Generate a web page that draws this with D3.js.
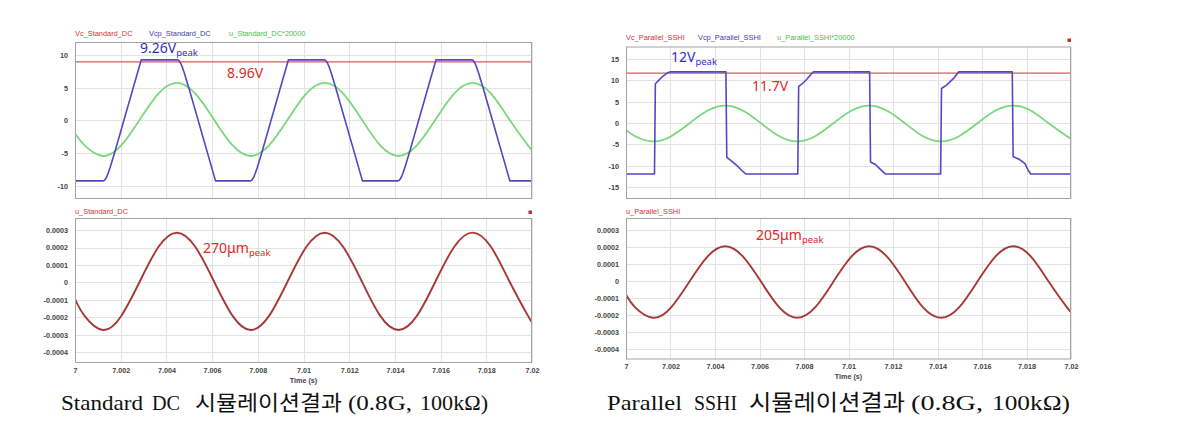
<!DOCTYPE html>
<html><head><meta charset="utf-8">
<script src="https://cdn.jsdelivr.net/npm/d3@7"></script>
<style>
html,body{margin:0;padding:0;background:#fff;}
svg{display:block;}
</style>
</head><body>
<svg id="chart" width="1186" height="435"></svg>
<script>
// ---------- data ----------
const xTickValues = [7, 7.002, 7.004, 7.006, 7.008, 7.01, 7.012, 7.014, 7.016, 7.018, 7.02];
const xTickLabels = ["7", "7.002", "7.004", "7.006", "7.008", "7.01", "7.012", "7.014", "7.016", "7.018", "7.02"];
const dcTopTicks = [10, 5, 0, -5, -10];
const sshiTopTicks = [15, 10, 5, 0, -5, -10, -15];
const dispTicks = [0.0003, 0.0002, 0.0001, 0, -0.0001, -0.0002, -0.0003, -0.0004];
const dispTickLabels = ["0.0003", "0.0002", "0.0001", "0", "-0.0001", "-0.0002", "-0.0003", "-0.0004"];

const dcLegend = ["Vc_Standard_DC", "Vcp_Standard_DC", "u_Standard_DC*20000"];
const sshiLegend = ["Vc_Parallel_SSHI", "Vcp_Parallel_SSHI", "u_Parallel_SSHI*20000"];
const dcBottomLabel = "u_Standard_DC";
const sshiBottomLabel = "u_Parallel_SSHI";
const dcCaptionWords = ["Standard", "DC", "시뮬레이션결과", "(0.8G,", "100kΩ)"];
const sshiCaptionWords = ["Parallel", "SSHI", "시뮬레이션결과", "(0.8G,", "100kΩ)"];

// time samples for the sinusoidal displacement curves (s)
const tSine = [7, 7.00041, 7.00122, 7.00203, 7.00284, 7.00365, 7.00446, 7.00527, 7.00608, 7.00689,
  7.00769, 7.00850, 7.00931, 7.01012, 7.01093, 7.01174, 7.01255, 7.01335, 7.01416, 7.01497,
  7.01578, 7.01659, 7.01740, 7.01821, 7.01901, 7.01982, 7.02];

// Standard DC
const uDC = [-0.95e-4, -1.90e-4, -2.72e-4, -1.90e-4, 0.07e-4, 2.03e-4, 2.85e-4, 2.03e-4, 0.07e-4, -1.90e-4,
  -2.72e-4, -1.90e-4, 0.07e-4, 2.03e-4, 2.85e-4, 2.03e-4, 0.07e-4, -1.90e-4, -2.72e-4, -1.90e-4,
  0.07e-4, 2.03e-4, 2.85e-4, 2.03e-4, 0.07e-4, -1.90e-4, -2.29e-4];
const uDCx20000 = [-2.0, -3.8, -5.45, -3.8, 0.15, 4.1, 5.75, 4.1, 0.15, -3.8,
  -5.45, -3.8, 0.15, 4.1, 5.75, 4.1, 0.15, -3.8, -5.45, -3.8,
  0.15, 4.1, 5.75, 4.1, 0.15, -3.8, -4.55];
const tVcpDC = [7,
  7.00122, 7.00130, 7.00138, 7.00145, 7.00153, 7.00173, 7.00290,
  7.00447, 7.00455, 7.00463, 7.00470, 7.00478, 7.00498, 7.00615,
  7.00766, 7.00774, 7.00782, 7.00789, 7.00797, 7.00817, 7.00934,
  7.01090, 7.01098, 7.01106, 7.01113, 7.01121, 7.01141, 7.01258,
  7.01412, 7.01420, 7.01428, 7.01435, 7.01443, 7.01463, 7.01580,
  7.01735, 7.01743, 7.01751, 7.01758, 7.01766, 7.01786, 7.01903,
  7.02];
const vcpDC = [-9.26,
  -9.26, -9.15, -8.7, -8.1, -7.3, -5.0, 9.26,
  9.26, 9.15, 8.7, 8.1, 7.3, 5.0, -9.26,
  -9.26, -9.15, -8.7, -8.1, -7.3, -5.0, 9.26,
  9.26, 9.15, 8.7, 8.1, 7.3, 5.0, -9.26,
  -9.26, -9.15, -8.7, -8.1, -7.3, -5.0, 9.26,
  9.26, 9.15, 8.7, 8.1, 7.3, 5.0, -9.26,
  -9.26];
const tVc = [7, 7.02];
const vcDC = [8.96, 8.96];

// Parallel SSHI
const uSSHI = [-0.82e-4, -1.56e-4, -2.17e-4, -1.56e-4, -0.07e-4, 1.41e-4, 2.03e-4, 1.41e-4, -0.07e-4, -1.56e-4,
  -2.17e-4, -1.56e-4, -0.07e-4, 1.41e-4, 2.03e-4, 1.41e-4, -0.07e-4, -1.56e-4, -2.17e-4, -1.56e-4,
  -0.07e-4, 1.41e-4, 2.03e-4, 1.41e-4, -0.07e-4, -1.56e-4, -1.80e-4];
const uSSHIx20000 = [-1.6, -3.07, -4.3, -3.07, -0.1, 2.87, 4.1, 2.87, -0.1, -3.07,
  -4.3, -3.07, -0.1, 2.87, 4.1, 2.87, -0.1, -3.07, -4.3, -3.07,
  -0.1, 2.87, 4.1, 2.87, -0.1, -3.07, -3.6];
const tVcpSSHI = [7,
  7.00128, 7.00132, 7.00147, 7.00162, 7.00185, 7.00200,
  7.00449, 7.00453, 7.00475, 7.00500, 7.00520, 7.00538,
  7.00772, 7.00776, 7.00792, 7.00812, 7.00830, 7.00842,
  7.01095, 7.01099, 7.01121, 7.01141, 7.01159, 7.01167,
  7.01414, 7.01418, 7.01441, 7.01471, 7.01486, 7.01496,
  7.01736, 7.01740, 7.01771, 7.01793, 7.01808, 7.01819,
  7.02];
const vcpSSHI = [-11.9,
  -11.9, 9.2, 10.0, 10.8, 11.7, 12.0,
  12.0, -8.0, -8.9, -10.0, -11.1, -11.9,
  -11.9, 8.6, 9.2, 10.2, 11.3, 12.0,
  12.0, -9.1, -9.7, -10.7, -11.6, -11.9,
  -11.9, 8.1, 8.9, 10.4, 11.4, 12.0,
  12.0, -7.8, -8.6, -9.5, -11.1, -11.9,
  -11.9];
const vcSSHI = [11.7, 11.7];

// ---------- drawing ----------
const svg = d3.select("#chart");
const zip = (xs, ys) => xs.map((x, i) => [x, ys[i]]);

const C = {
  frame: "#a3a3a3", grid: "#e3e3e3", tick: "#444",
  vc: "#d65a5a", vcp: "#5546c2", ug: "#7ad87a", ub: "#a63838",
  legVc: "#d03434", legVcp: "#3c3ca6", legU: "#48c048"
};

function panel(cfg) {
  const g = svg.append("g");
  const x = d3.scaleLinear().domain([7, 7.02]).range([cfg.x0, cfg.x1]);
  const yT = d3.scaleLinear().domain(cfg.topDomain).range([cfg.top[1], cfg.top[0]]);
  const yB = d3.scaleLinear().domain(cfg.botDomain).range([cfg.bot[1], cfg.bot[0]]);

  function frame(y, yticks, y0, y1) {
    const gg = g.append("g");
    gg.selectAll("line.h").data(yticks).join("line")
      .attr("x1", cfg.x0).attr("x2", cfg.x1)
      .attr("y1", d => Math.round(y(d)) + 0.5).attr("y2", d => Math.round(y(d)) + 0.5)
      .attr("stroke", C.grid).attr("stroke-width", 1);
    gg.selectAll("line.v").data(xTickValues).join("line")
      .attr("y1", y0).attr("y2", y1)
      .attr("x1", d => Math.round(x(d)) + 0.5).attr("x2", d => Math.round(x(d)) + 0.5)
      .attr("stroke", C.grid).attr("stroke-width", 1);
    return gg;
  }
  frame(yT, cfg.topTicks, cfg.top[0], cfg.top[1]);
  frame(yB, dispTicks, cfg.bot[0], cfg.bot[1]);

  const axisStyle = sel => {
    sel.select(".domain").remove();
    sel.selectAll("text").attr("fill", C.tick).attr("font-family", "Liberation Sans, Arial, sans-serif")
      .attr("font-size", 7.2).attr("font-weight", "bold");
  };
  g.append("g").attr("transform", `translate(${cfg.x0},0)`)
    .call(d3.axisLeft(yT).tickValues(cfg.topTicks).tickFormat(d => String(d)).tickSize(0).tickPadding(7))
    .call(axisStyle);
  g.append("g").attr("transform", `translate(${cfg.x0},0)`)
    .call(d3.axisLeft(yB).tickValues(dispTicks).tickFormat((d, i) => dispTickLabels[i]).tickSize(0).tickPadding(7))
    .call(axisStyle);
  g.append("g").attr("transform", `translate(0,${cfg.bot[1]})`)
    .call(d3.axisBottom(x).tickValues(xTickValues).tickFormat((d, i) => xTickLabels[i]).tickSize(0).tickPadding(cfg.xPad))
    .call(axisStyle);
  g.append("text").attr("x", (cfg.x0 + cfg.x1) / 2).attr("y", cfg.timeY)
    .attr("text-anchor", "middle").attr("font-family", "Liberation Sans, Arial, sans-serif")
    .attr("font-size", 7.2).attr("font-weight", "bold").attr("fill", "#444").text("Time (s)");

  // clip paths
  const idT = "clipT" + cfg.id, idB = "clipB" + cfg.id;
  const defs = svg.append("defs");
  defs.append("clipPath").attr("id", idT).append("rect")
    .attr("x", cfg.x0).attr("y", cfg.top[0]).attr("width", cfg.x1 - cfg.x0).attr("height", cfg.top[1] - cfg.top[0]);
  defs.append("clipPath").attr("id", idB).append("rect")
    .attr("x", cfg.x0).attr("y", cfg.bot[0]).attr("width", cfg.x1 - cfg.x0).attr("height", cfg.bot[1] - cfg.bot[0]);

  const lineT = d3.line().x(d => x(d[0])).y(d => yT(d[1]));
  const sineT = d3.line().x(d => x(d[0])).y(d => yT(d[1])).curve(d3.curveNatural);
  const sineB = d3.line().x(d => x(d[0])).y(d => yB(d[1])).curve(d3.curveNatural);

  const gt = g.append("g").attr("clip-path", `url(#${idT})`);
  gt.append("path").attr("d", sineT(zip(tSine, cfg.ug))).attr("fill", "none").attr("stroke", C.ug).attr("stroke-width", 1.8);
  gt.append("path").attr("d", lineT(zip(tVc, cfg.vc))).attr("fill", "none").attr("stroke", C.vc).attr("stroke-width", 1.2);
  gt.append("path").attr("d", lineT(zip(cfg.tVcp, cfg.vcp))).attr("fill", "none").attr("stroke", C.vcp).attr("stroke-width", 1.6).attr("stroke-linejoin", "round");

  const gb = g.append("g").attr("clip-path", `url(#${idB})`);
  gb.append("path").attr("d", sineB(zip(tSine, cfg.u))).attr("fill", "none").attr("stroke", C.ub).attr("stroke-width", 1.9);

  // frames
  [cfg.top, cfg.bot].forEach(r => {
    g.append("rect").attr("x", cfg.x0 + 0.5).attr("y", r[0] + 0.5)
      .attr("width", cfg.x1 - cfg.x0 - 1).attr("height", r[1] - r[0] - 1)
      .attr("fill", "none").attr("stroke", C.frame).attr("stroke-width", 1);
  });

  // legends
  const lf = "Liberation Sans, Arial, sans-serif";
  [C.legVc, C.legVcp, C.legU].forEach((col, i) => {
    g.append("text").attr("x", cfg.legX[i]).attr("y", cfg.legY).attr("font-family", lf)
      .attr("font-size", 7.4).attr("fill", col).text(cfg.legend[i]);
  });
  g.append("text").attr("x", cfg.x0).attr("y", cfg.botLabelY).attr("font-family", lf)
    .attr("font-size", 7.4).attr("fill", C.legVc).text(cfg.botLabel);
  g.append("rect").attr("x", cfg.sq[0] - 1.5).attr("y", cfg.sq[1] - 1.5).attr("width", 3.5).attr("height", 3.5).attr("fill", "#c43030");

  // annotations
  const af = "Noto Sans, Open Sans, sans-serif";
  cfg.notes.forEach(n => {
    const t = g.append("text").attr("x", n.x).attr("y", n.y).attr("font-family", af)
      .attr("font-size", 14).attr("fill", n.c);
    t.append("tspan").text(n.main);
    if (n.sub) t.append("tspan").attr("font-size", 9.5).attr("dy", 3).text(n.sub);
  });

  // caption, word by word
  const cap = svg.append("text").attr("y", 410)
    .attr("font-family", "Liberation Serif, 'Noto Sans CJK KR', serif")
    .attr("fill", "#111");
  cfg.capWords.forEach((w, i) => {
    cap.append("tspan").attr("x", cfg.capX[i]).attr("font-size", cfg.capSize[i])
      .attr("textLength", cfg.capW[i]).attr("lengthAdjust", "spacingAndGlyphs").text(w);
  });
}

panel({
  id: "dc", x0: 75, x1: 532, top: [42, 199], bot: [218, 363],
  topDomain: [-12.03, 11.99], botDomain: [-0.000461, 0.000369], topTicks: dcTopTicks,
  xPad: 4.5, timeY: 382.5,
  ug: uDCx20000, u: uDC, vc: vcDC, tVcp: tVcpDC, vcp: vcpDC,
  legend: dcLegend, legX: [75, 149, 229], legY: 35.5, botLabel: dcBottomLabel, botLabelY: 213.5,
  sq: [530, 212],
  notes: [
    {x: 140, y: 53, c: "#3030c8", main: "9.26V", sub: "peak"},
    {x: 227, y: 78, c: "#e02828", main: "8.96V"},
    {x: 203, y: 253, c: "#e02828", main: "270μm", sub: "peak"}
  ],
  capWords: dcCaptionWords,
  capX: [61, 152, 195, 348, 420], capW: [82, 28, 147, 64, 68], capSize: [22, 22, 21, 22, 22]
});
panel({
  id: "sshi", x0: 626, x1: 1071, top: [46.5, 199], bot: [218, 359.5],
  topDomain: [-17.77, 17.93], botDomain: [-0.000462, 0.000369], topTicks: sshiTopTicks,
  xPad: 4, timeY: 378.5,
  ug: uSSHIx20000, u: uSSHI, vc: vcSSHI, tVcp: tVcpSSHI, vcp: vcpSSHI,
  legend: sshiLegend, legX: [626, 698, 777], legY: 40, botLabel: sshiBottomLabel, botLabelY: 213.5,
  sq: [1069, 40],
  notes: [
    {x: 671, y: 62, c: "#3030c8", main: "12V", sub: "peak"},
    {x: 752, y: 91, c: "#e02828", main: "11.7V"},
    {x: 756, y: 240, c: "#e02828", main: "205μm", sub: "peak"}
  ],
  capWords: sshiCaptionWords,
  capX: [607, 694, 749, 911, 992], capW: [75, 43, 156, 72, 78], capSize: [22, 22, 22, 22, 22]
});
</script>
</body></html>
